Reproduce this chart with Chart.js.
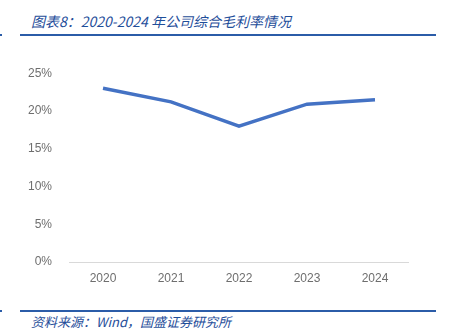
<!DOCTYPE html>
<html>
<head>
<meta charset="utf-8">
<script src="https://cdn.jsdelivr.net/npm/chart.js@4"></script>
<style>
  body { margin: 0; background: #fff; width: 449px; height: 332px; position: relative; overflow: hidden; }
  .title { position: absolute; left: 31px; top: 11px; font: italic 14px "Noto Sans CJK SC", sans-serif; color: #1F4E9A; }
  .rule { position: absolute; left: 20px; width: 416px; height: 2px; background: #2B5CA8; }
  .dot { position: absolute; left: 0; width: 2px; height: 2px; background: #2B5CA8; }
  .source { position: absolute; left: 31px; top: 312px; font: italic 13px "Noto Sans CJK SC", sans-serif; color: #1F4E9A; }
  #wrap { position: absolute; left: 20px; top: 57px; width: 389px; height: 235px; }
</style>
</head>
<body>
<div class="title">图表8：2020-2024 年公司综合毛利率情况</div>
<div class="rule" style="top:34px"></div>
<div class="dot" style="top:34px"></div>
<div id="wrap"><canvas id="chart"></canvas></div>
<div class="rule" style="top:310px"></div>
<div class="dot" style="top:310px"></div>
<div class="source">资料来源：Wind，国盛证券研究所</div>
<script>
// gross margin by year, percent
const years = ['2020', '2021', '2022', '2023', '2024'];
const grossMargin = [23.0, 21.2, 18.0, 20.9, 21.5];
const yTicks = [0, 5, 10, 15, 20, 25];

const drawChart = () => {
    const ctx = document.getElementById('chart');
    new Chart(ctx, {
        type: 'line',
        data: {
            labels: years,
            datasets: [{
                data: grossMargin,
                borderColor: '#4472C4',
                borderWidth: 3.5,
                pointRadius: 0,
                tension: 0
            }]
        },
        options: {
            responsive: true,
            maintainAspectRatio: false,
            animation: false,
            layout: { padding: 0 },
            plugins: { legend: { display: false }, tooltip: { enabled: false } },
            scales: {
                x: {
                    offset: true,
                    grid: { display: false },
                    border: { color: '#D9D9D9', width: 1 },
                    ticks: { color: '#6E6E6E', font: { family: 'Liberation Sans', size: 12 }, padding: 1 },
                    afterFit: (scale) => { scale.height = 30; }
                },
                y: {
                    min: 0,
                    max: 25,
                    grid: { display: false },
                    border: { display: false },
                    afterBuildTicks: (scale) => { scale.ticks = yTicks.map(v => ({ value: v })); },
                    ticks: {
                        color: '#6E6E6E',
                        font: { family: 'Liberation Sans', size: 12 },
                        padding: 9,
                        callback: (v) => v + '%'
                    },
                    afterFit: (scale) => { scale.width = 49; }
                }
            }
        }
    });
}

drawChart();
</script>
</body>
</html>
